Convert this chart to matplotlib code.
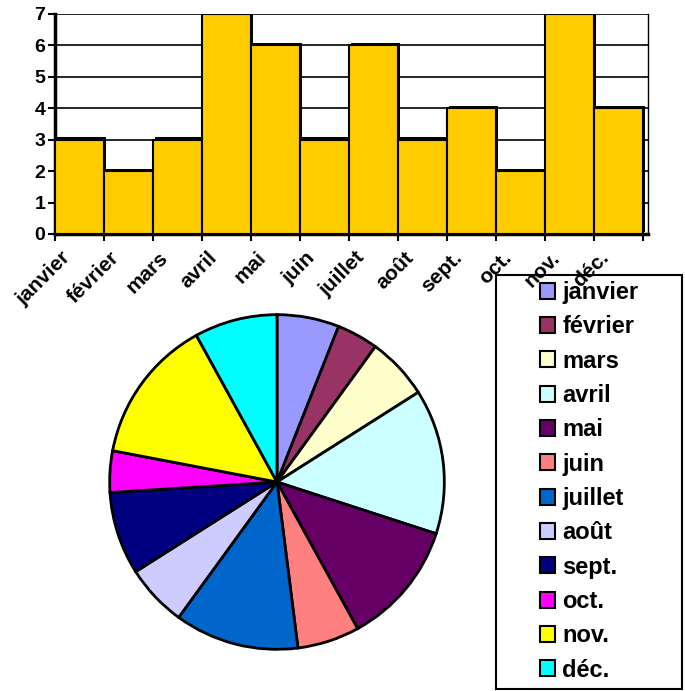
import matplotlib
matplotlib.use("Agg")
import matplotlib.pyplot as plt
import matplotlib.patheffects as pe
import matplotlib.transforms as mtransforms
from matplotlib.patches import Rectangle
import numpy as np

plt.rcParams['font.family'] = ['Liberation Sans', 'DejaVu Sans']
plt.rcParams['font.weight'] = 'bold'

months = ["janvier", "février", "mars", "avril", "mai", "juin",
          "juillet", "août", "sept.", "oct.", "nov.", "déc."]
values = [3, 2, 3, 7, 6, 3, 6, 3, 4, 2, 7, 4]
yticks = [0, 1, 2, 3, 4, 5, 6, 7]
bar_color = "#FFCC00"
pie_colors = ["#9999FF", "#993366", "#FFFFCC", "#CCFFFF", "#660066", "#FF8080",
              "#0066CC", "#CCCCFF", "#000080", "#FF00FF", "#FFFF00", "#00FFFF"]

W, H = 685, 691
fig = plt.figure(figsize=(W / 100, H / 100), dpi=100)

def fbox(x0, y0, x1, y1):
    return [x0 / W, 1 - y1 / H, (x1 - x0) / W, (y1 - y0) / H]

# ---- bar chart ----
ax = fig.add_axes(fbox(55, 14, 648, 234))
ax.set_zorder(5)
x = np.arange(len(months))
bars = ax.bar(x, values, width=1.0, color=bar_color, edgecolor="black",
              linewidth=1.5, zorder=3)
for b in bars:
    b.set_path_effects([pe.SimplePatchShadow(offset=(1.6, 1.6), shadow_rgbFace="black",
                                             alpha=1.0), pe.Normal()])
ax.set_xlim(-0.5, 11.6)
ax.set_ylim(0, 7)
ax.set_yticks(yticks)
ax.set_yticklabels([str(v) for v in yticks], fontsize=14, fontweight="bold")
ax.yaxis.grid(True, color="black", linewidth=1.2, zorder=0)
ax.set_axisbelow(True)
ax.set_xticks(x)
ax.set_xticklabels(months, rotation=45, ha="right", va="top",
                   rotation_mode="anchor", fontsize=15, fontweight="bold")
ax.tick_params(axis="x", which="major", length=0, pad=10)
ax.set_xticks(np.arange(-0.5, 12, 1.0), minor=True)
ax.tick_params(axis="x", which="minor", length=5, width=1.5, direction="out")
ax.tick_params(axis="y", length=5, width=1.5, direction="out", pad=2)
ax.spines["top"].set_visible(False)
ax.spines["right"].set_linewidth(1.0)
ax.spines["left"].set_linewidth(2.5)
ax.spines["bottom"].set_linewidth(2.5)
shift = mtransforms.ScaledTranslation(-19 / 100, 0, fig.dpi_scale_trans)
for lab in ax.get_xticklabels():
    lab.set_transform(lab.get_transform() + shift)

# ---- pie chart ----
cx, cy, r = 277, 482, 169
pax = fig.add_axes(fbox(cx - r, cy - r, cx + r, cy + r))
wedges, _ = pax.pie(values, colors=pie_colors, startangle=90, counterclock=False,
                    radius=1.0,
                    wedgeprops=dict(edgecolor="black", linewidth=2))
pax.set_xlim(-1.01, 1.01)
pax.set_ylim(-1.01, 1.01)
pax.set_aspect("auto")
pax.axis("off")

# ---- legend ----
fig.patches.append(Rectangle((496 / W, 1 - 689 / H), (682 - 496) / W, (689 - 275) / H,
                             transform=fig.transFigure, facecolor="white",
                             edgecolor="black", linewidth=1.5, zorder=1))
leg = fig.legend(wedges, months, loc="upper left",
                 bbox_to_anchor=(540 / W, 1 - 281 / H), frameon=False,
                 prop=dict(size=17, weight="bold"),
                 handlelength=0.65, handleheight=0.65, handletextpad=0.3,
                 labelspacing=0.48, borderpad=0.0, borderaxespad=0.0)
for h in leg.legend_handles:
    h.set_linewidth(1.5)
leg.set_zorder(2)

fig.savefig("out.png", dpi=100)
